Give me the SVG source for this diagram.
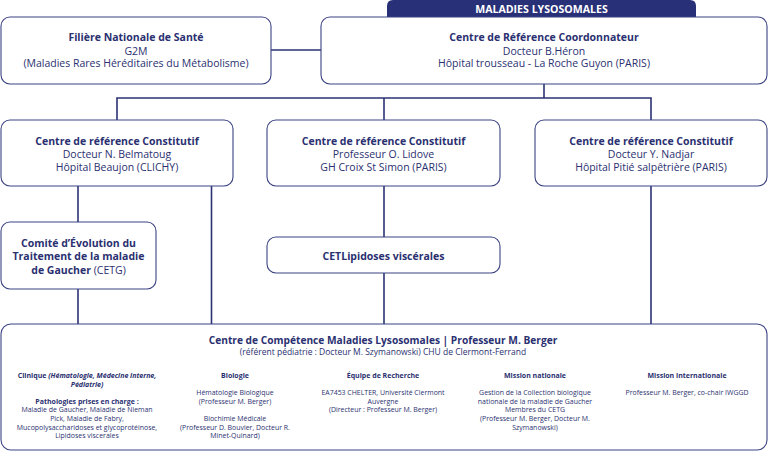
<svg xmlns="http://www.w3.org/2000/svg" width="768" height="451" viewBox="0 0 768 451">
<style>
.box{fill:#fff;stroke:#3b4383;stroke-width:1.1}
.ln{stroke:#2b3275;stroke-width:1.6;fill:none}
text{font-family:"Open Sans","Noto Sans","Liberation Sans",sans-serif;fill:#2a3070;text-anchor:middle}
.t{font-size:10.5px;font-weight:700}
.r{font-size:10.5px}
.st{font-size:7px;font-weight:700}
.s{font-size:6.95px}
</style>
<rect width="768" height="451" fill="#fff"/>
<g id="connectors">
<line class="ln" x1="271" y1="50" x2="321" y2="50"/>
<polyline class="ln" points="117,120 117,98 651,98 651,120"/>
<line class="ln" x1="544" y1="84" x2="544" y2="98"/>
<line class="ln" x1="384" y1="98" x2="384" y2="120"/>
<line class="ln" x1="78" y1="186" x2="78" y2="222"/>
<line class="ln" x1="211.5" y1="186" x2="211.5" y2="324"/>
<line class="ln" x1="78" y1="289" x2="78" y2="324"/>
<line class="ln" x1="384" y1="186" x2="384" y2="237"/>
<line class="ln" x1="384" y1="273" x2="384" y2="324"/>
<line class="ln" x1="651" y1="186" x2="651" y2="324"/>
</g>
<g id="header">
<path d="M387,17 V6 Q387,0 393,0 H690 Q696,0 696,6 V17 Z" fill="#283077"/>
<text x="541.5" y="12.8" style="font-size:10.6px;font-weight:700;fill:#fff">MALADIES LYSOSOMALES</text>
</g>
<g id="filiere">
<rect class="box" x="1" y="17" width="270" height="67" rx="9"/>
<text class="t" x="136" y="41">Filière Nationale de Santé</text>
<text class="r" x="136" y="54.5">G2M</text>
<text class="r" x="136" y="67">(Maladies Rares Héréditaires du Métabolisme)</text>
</g>
<g id="coordonnateur">
<rect class="box" x="321" y="17" width="446" height="67" rx="9"/>
<text class="t" x="544" y="41">Centre de Référence Coordonnateur</text>
<text class="r" x="544" y="54.5">Docteur B.Héron</text>
<text class="r" x="544" y="67">Hôpital trousseau - La Roche Guyon (PARIS)</text>
</g>
<g id="constitutif-clichy">
<rect class="box" x="1" y="120" width="232" height="66" rx="9"/>
<text class="t" x="117" y="144.5">Centre de référence Constitutif</text>
<text class="r" x="117" y="157.5">Docteur N. Belmatoug</text>
<text class="r" x="117" y="170.5">Hôpital Beaujon (CLICHY)</text>
</g>
<g id="constitutif-lidove">
<rect class="box" x="267" y="120" width="233" height="66" rx="9"/>
<text class="t" x="383.5" y="144.5">Centre de référence Constitutif</text>
<text class="r" x="383.5" y="157.5">Professeur O. Lidove</text>
<text class="r" x="383.5" y="170.5">GH Croix St Simon (PARIS)</text>
</g>
<g id="constitutif-nadjar">
<rect class="box" x="535" y="120" width="232" height="66" rx="9"/>
<text class="t" x="651" y="144.5">Centre de référence Constitutif</text>
<text class="r" x="651" y="157.5">Docteur Y. Nadjar</text>
<text class="r" x="651" y="170.5">Hôpital Pitié salpêtrière (PARIS)</text>
</g>
<g id="cetg">
<rect class="box" x="1" y="222" width="155" height="67" rx="9"/>
<text class="t" x="78.5" y="247">Comité d’Évolution du</text>
<text class="t" x="78.5" y="260">Traitement de la maladie</text>
<text class="t" x="78.5" y="273.5">de Gaucher <tspan style="font-weight:400">(CETG)</tspan></text>
</g>
<g id="cetl">
<rect class="box" x="267" y="237" width="233" height="36" rx="9"/>
<text class="t" x="383.5" y="259.5">CETLipidoses viscérales</text>
</g>
<g id="competence">
<rect class="box" x="1" y="324" width="766" height="126" rx="10"/>
<text x="383" y="344" style="font-size:10.2px;font-weight:700">Centre de Compétence Maladies Lysosomales | Professeur M. Berger</text>
<text x="383" y="355" style="font-size:8.5px">(référent pédiatrie : Docteur M. Szymanowski) CHU de Clermont-Ferrand</text>
<text class="st" x="87" y="377.5">Clinique <tspan style="font-style:italic">(Hématologie, Médecine interne,</tspan></text>
<text class="st" x="87" y="386.5" style="font-style:italic">Pédiatrie)</text>
<text class="st" x="87" y="403.5">Pathologies prises en charge :</text>
<text class="s" x="87" y="412.3">Maladie de Gaucher, Maladie de Nieman</text>
<text class="s" x="87" y="421">Pick, Maladie de Fabry,</text>
<text class="s" x="87" y="429.7">Mucopolysaccharidoses et glycoprotéinose,</text>
<text class="s" x="87" y="438.4">Lipidoses viscerales</text>
<text class="st" x="235" y="377.5">Biologie</text>
<text class="s" x="235" y="395">Hématologie Biologique</text>
<text class="s" x="235" y="403.7">(Professeur M. Berger)</text>
<text class="s" x="235" y="421">Biochimie Médicale</text>
<text class="s" x="235" y="429.7">(Professeur D. Bouvier, Docteur R.</text>
<text class="s" x="235" y="438.4">Minet-Quinard)</text>
<text class="st" x="383" y="377.5">Équipe de Recherche</text>
<text class="s" x="383" y="395">EA7453 CHELTER,  Université Clermont</text>
<text class="s" x="383" y="403.7">Auvergne</text>
<text class="s" x="383" y="412.4">(Directeur : Professeur M. Berger)</text>
<text class="st" x="535" y="377.5">Mission nationale</text>
<text class="s" x="535" y="395">Gestion de la Collection biologique</text>
<text class="s" x="535" y="403.7">nationale de la maladie de Gaucher</text>
<text class="s" x="535" y="412.4">Membres du CETG</text>
<text class="s" x="535" y="421">(Professeur M. Berger, Docteur M.</text>
<text class="s" x="535" y="429.7">Szymanowski)</text>
<text class="st" x="687" y="377.5">Mission internationale</text>
<text class="s" x="687" y="395">Professeur M. Berger, co-chair IWGGD</text>
</g>
</svg>
